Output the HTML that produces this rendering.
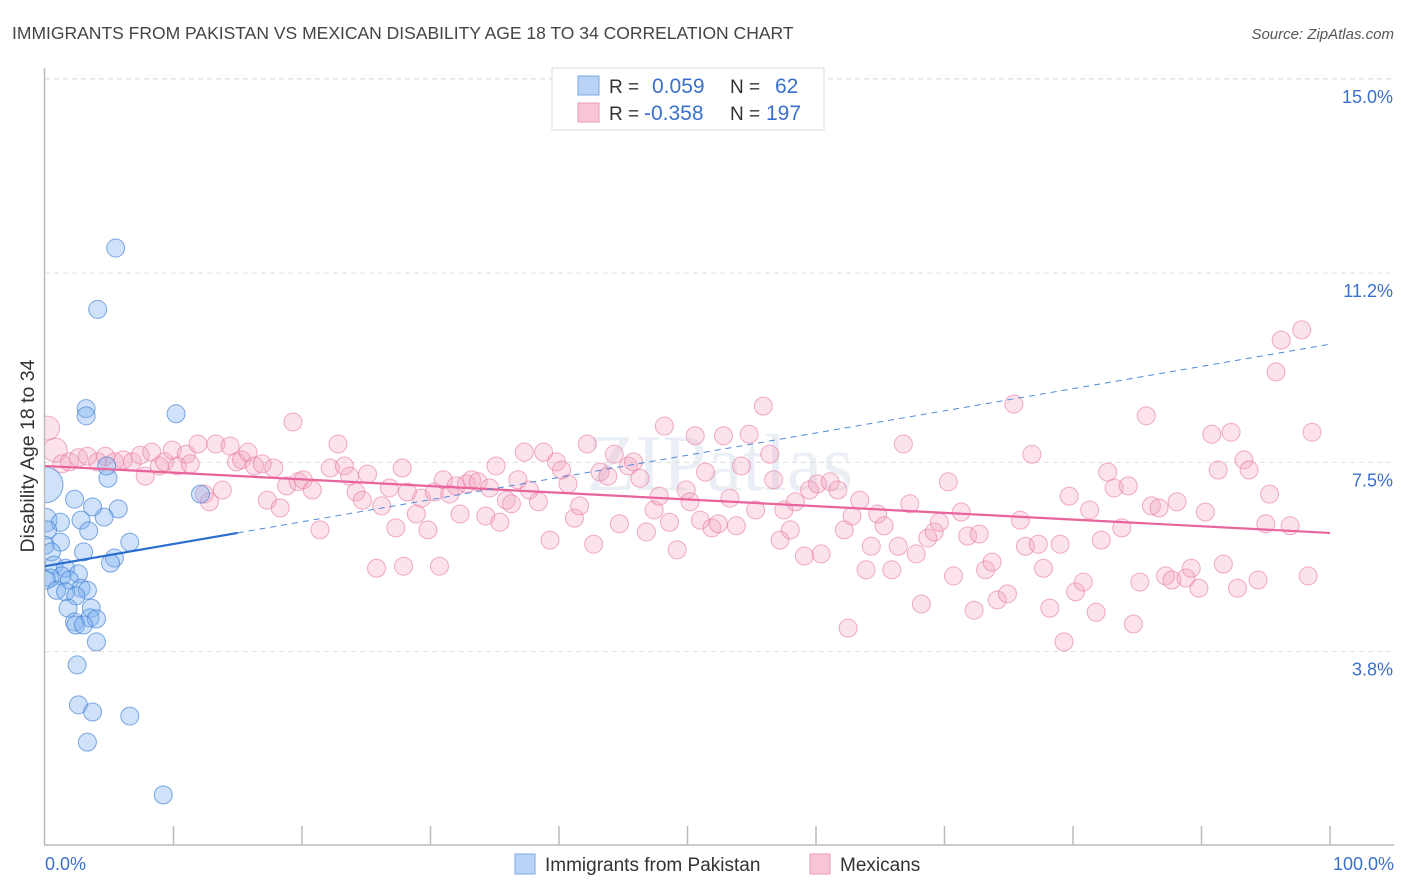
<!DOCTYPE html>
<html><head><meta charset="utf-8"><style>
body{margin:0;background:#fff;font-family:"Liberation Sans",sans-serif;}
svg{display:block}
</style></head><body>
<svg id="chart" width="1406" height="892" xmlns="http://www.w3.org/2000/svg">
<defs><clipPath id="plotclip"><rect x="45" y="60" width="1361" height="786"/></clipPath></defs>
<text x="12" y="39" font-size="17.5" fill="#444">IMMIGRANTS FROM PAKISTAN VS MEXICAN DISABILITY AGE 18 TO 34 CORRELATION CHART</text>
<text x="1394" y="39" font-size="15" fill="#555" font-style="italic" text-anchor="end">Source: ZipAtlas.com</text>
<text x="720" y="490" font-size="80" fill="#dde6f0" text-anchor="middle" font-family="Liberation Serif,serif" opacity="0.6">ZIPatlas</text>
<g id="grid"></g>
<g id="axes"></g>
<g id="pink" clip-path="url(#plotclip)"></g>
<g id="blue" clip-path="url(#plotclip)"></g>
<g id="lines"></g>
<text transform="translate(34,456) rotate(-90)" font-size="19.5" fill="#333" text-anchor="middle">Disability Age 18 to 34</text>
<g>
<rect x="552" y="68" width="272" height="62" fill="#fff" stroke="#ddd"/>
<rect x="578" y="76" width="21" height="19" fill="#b8d3f5" stroke="#7aaae6"/>
<rect x="578" y="103" width="21" height="19" fill="#f9c6d5" stroke="#eb9ab5"/>
<text x="609" y="93" font-size="19" fill="#333">R =</text>
<text x="652" y="93" font-size="21" fill="#3a70cc">0.059</text>
<text x="730" y="93" font-size="19" fill="#333">N =</text>
<text x="775" y="93" font-size="21" fill="#3a70cc">62</text>
<text x="609" y="120" font-size="19" fill="#333">R =</text>
<text x="644" y="120" font-size="21" fill="#3a70cc">-0.358</text>
<text x="730" y="120" font-size="19" fill="#333">N =</text>
<text x="766" y="120" font-size="21" fill="#3a70cc">197</text>
</g>
<g>
<rect x="515" y="854" width="20" height="20" fill="#b8d3f5" stroke="#7aaae6"/>
<text x="545" y="871" font-size="19" fill="#333">Immigrants from Pakistan</text>
<rect x="810" y="854" width="20" height="20" fill="#f9c6d5" stroke="#eb9ab5"/>
<text x="840" y="871" font-size="19" fill="#333">Mexicans</text>
</g>
</svg>
<script>
const yTicks=[3.8,7.5,11.2,15.0];
const yTickLabels=["3.8%","7.5%","11.2%","15.0%"];
const xTickLabels=["0.0%","100.0%"];
const blueX=[5.5,4.1,3.2,3.2,10.2,0.0,4.9,4.8,12.1,5.7,2.3,4.6,3.7,2.8,3.4,0.0,1.2,0.2,1.2,0.0,3.0,0.5,6.6,5.4,5.1,0.7,1.6,2.6,1.3,0.4,1.9,0.1,0.9,2.8,3.3,1.6,2.4,1.8,3.6,3.5,4.0,2.3,2.4,3.0,4.0,2.5,2.6,3.7,6.6,3.3,9.2];
const blueY=[11.69,10.49,8.55,8.41,8.45,7.06,7.19,7.43,6.88,6.59,6.78,6.43,6.63,6.37,6.16,6.37,6.33,6.18,5.94,5.88,5.75,5.75,5.94,5.63,5.53,5.49,5.43,5.32,5.28,5.24,5.20,5.20,5.00,5.04,5.00,4.97,4.89,4.65,4.65,4.46,4.44,4.38,4.32,4.32,3.99,3.54,2.76,2.62,2.54,2.03,1.00];
const pinkX=[0.2,0.8,1.3,1.9,2.6,3.3,4.1,4.7,5.4,6.1,6.8,7.4,7.8,8.3,8.9,9.3,9.9,10.3,11.0,11.3,11.9,12.4,12.8,13.3,13.8,14.4,14.9,15.3,15.8,16.3,16.9,17.3,17.8,18.3,18.8,19.3,19.7,20.1,20.8,21.4,22.2,22.8,23.3,23.7,24.2,24.7,25.1,25.8,26.2,26.8,27.3,27.8,27.9,28.2,28.9,29.3,29.8,30.3,30.7,31.0,31.5,32.0,32.3,32.8,33.2,33.7,34.3,34.6,35.1,35.4,35.9,36.3,36.8,37.3,37.7,38.4,38.8,39.3,39.8,40.2,40.7,41.2,41.6,42.2,42.7,43.2,43.8,44.3,44.7,45.4,45.8,46.3,46.8,47.4,47.8,48.2,48.6,49.2,49.9,50.2,50.6,51.0,51.4,51.9,52.4,52.8,53.3,53.8,54.2,54.8,55.3,55.9,56.4,56.7,57.2,57.5,58.0,58.4,59.1,59.5,60.1,60.4,61.1,61.7,62.2,62.5,62.8,63.4,63.9,64.3,64.8,65.3,65.9,66.4,66.8,67.3,67.8,68.2,68.7,69.2,69.6,70.3,70.7,71.3,71.8,72.3,72.7,73.2,73.7,74.1,74.9,75.4,75.9,76.3,76.8,77.3,77.7,78.2,79.0,79.3,79.7,80.2,80.8,81.3,81.8,82.2,82.7,83.2,83.8,84.3,84.7,85.2,85.7,86.1,86.7,87.2,87.7,88.1,88.8,89.2,89.8,90.3,90.8,91.3,91.7,92.3,92.8,93.3,93.7,94.4,95.0,95.3,95.8,96.2,96.9,97.8,98.3,98.6];
const pinkY=[8.17,7.74,7.47,7.51,7.59,7.62,7.51,7.62,7.51,7.55,7.51,7.64,7.23,7.70,7.43,7.51,7.74,7.43,7.66,7.47,7.86,6.88,6.73,7.86,6.96,7.82,7.51,7.55,7.70,7.43,7.47,6.76,7.39,6.61,7.04,8.29,7.12,7.16,6.96,6.18,7.39,7.86,7.43,7.23,6.92,6.76,7.27,5.43,6.65,7.00,6.22,7.39,5.47,6.92,6.49,6.80,6.18,6.92,5.47,7.16,6.88,7.04,6.49,7.08,7.16,7.12,6.45,7.00,7.43,6.33,6.76,6.69,7.16,7.70,6.96,6.73,7.70,5.98,7.51,7.35,7.08,6.41,6.65,7.86,5.90,7.31,7.23,7.66,6.30,7.43,7.51,7.19,6.14,6.57,6.84,8.21,6.33,5.79,6.96,6.73,8.02,6.37,7.31,6.22,6.30,8.02,6.80,6.26,7.43,8.05,6.57,8.60,7.66,7.16,5.98,6.57,6.18,6.73,5.67,6.96,7.08,5.71,7.12,6.96,6.18,4.26,6.45,6.76,5.40,5.86,6.49,6.26,5.40,5.86,7.86,6.69,5.71,4.73,6.02,6.14,6.33,7.12,5.28,6.53,6.06,4.61,6.10,5.40,5.55,4.81,4.93,8.64,6.37,5.86,7.66,5.90,5.43,4.65,5.90,3.99,6.84,4.97,5.16,6.57,4.57,5.98,7.31,7.00,6.22,7.04,4.34,5.16,8.41,6.65,6.61,5.28,5.20,6.73,5.24,5.43,5.04,6.53,8.05,7.35,5.51,8.09,5.04,7.55,7.35,5.20,6.30,6.88,9.27,9.89,6.26,10.09,5.28,8.09];
const blueTrend=[5.47,9.81];
const pinkTrend=[7.43,6.12];
const blueSolidEnd=15;

const NS="http://www.w3.org/2000/svg";
const X0=45,X1=1330,YB=846,PX=51.15;
function sx(v){return X0+(X1-X0)*v/100;}
function sy(v){return YB-v*PX;}
function mk(tag,attrs,parent){const e=document.createElementNS(NS,tag);for(const k in attrs)e.setAttribute(k,attrs[k]);parent.appendChild(e);return e;}
const gridG=document.getElementById('grid'),axesG=document.getElementById('axes');
yTicks.forEach((t,i)=>{
  const l=mk('line',{x1:X0,x2:1394,y1:sy(t),y2:sy(t),stroke:'#ddd','stroke-dasharray':'5,4'},gridG);
  
  
  const tx=mk('text',{x:1393,y:sy(t)+24,'font-size':18,fill:'#3a70cc','text-anchor':'end'},axesG);
  tx.textContent=yTickLabels[i];
  
  
});
const topGridLine=mk('line',{x1:X0,x2:1394,y1:79,y2:79,stroke:'#ddd','stroke-dasharray':'5,4'},gridG);


const ya=mk('line',{x1:44.5,x2:44.5,y1:68,y2:845,stroke:'#bbb','stroke-width':1.5},axesG);


const xa=mk('line',{x1:44,x2:1394,y1:845,y2:845,stroke:'#bbb','stroke-width':1.5},axesG);


for(let i=1;i<=10;i++){
  const t=mk('line',{x1:sx(i*10),x2:sx(i*10),y1:826,y2:845,stroke:'#bbb','stroke-width':1.5},axesG);
  
  
}
const xl0=mk('text',{x:45,y:870,'font-size':18,fill:'#3a70cc'},axesG);xl0.textContent=xTickLabels[0];


const xl1=mk('text',{x:1394,y:870,'font-size':18,fill:'#3a70cc','text-anchor':'end'},axesG);xl1.textContent=xTickLabels[1];



const pg=document.getElementById('pink');
pinkX.forEach((x,i)=>{
  const r=i<2?12:9;
  const c=mk('circle',{cx:sx(x),cy:sy(pinkY[i]),r:r,fill:'rgba(244,165,192,0.32)',stroke:'rgba(232,120,160,0.6)','stroke-width':1},pg);
  
  
});
const bg=document.getElementById('blue');
blueX.forEach((x,i)=>{
  const r=i===5?18:(i===15?12:9);
  const c=mk('circle',{cx:sx(x),cy:sy(blueY[i]),r:r,fill:'rgba(130,178,238,0.38)',stroke:'rgba(60,125,210,0.65)','stroke-width':1},bg);
  
  
});
const lg=document.getElementById('lines');
function bAt(x){return blueTrend[0]+(blueTrend[1]-blueTrend[0])*x/100;}
const pl=mk('line',{x1:sx(0),y1:sy(pinkTrend[0]),x2:sx(100),y2:sy(pinkTrend[1]),stroke:'#e8649a','stroke-width':2.2},lg);


const bl=mk('line',{x1:sx(0),y1:sy(bAt(0)),x2:sx(blueSolidEnd),y2:sy(bAt(blueSolidEnd)),stroke:'#2a6fcf','stroke-width':2.2},lg);


const bd=mk('line',{x1:sx(blueSolidEnd),y1:sy(bAt(blueSolidEnd)),x2:sx(100),y2:sy(bAt(100)),stroke:'#4f8ad6','stroke-width':1,'stroke-dasharray':'6,5'},lg);


</script>
</body></html>
